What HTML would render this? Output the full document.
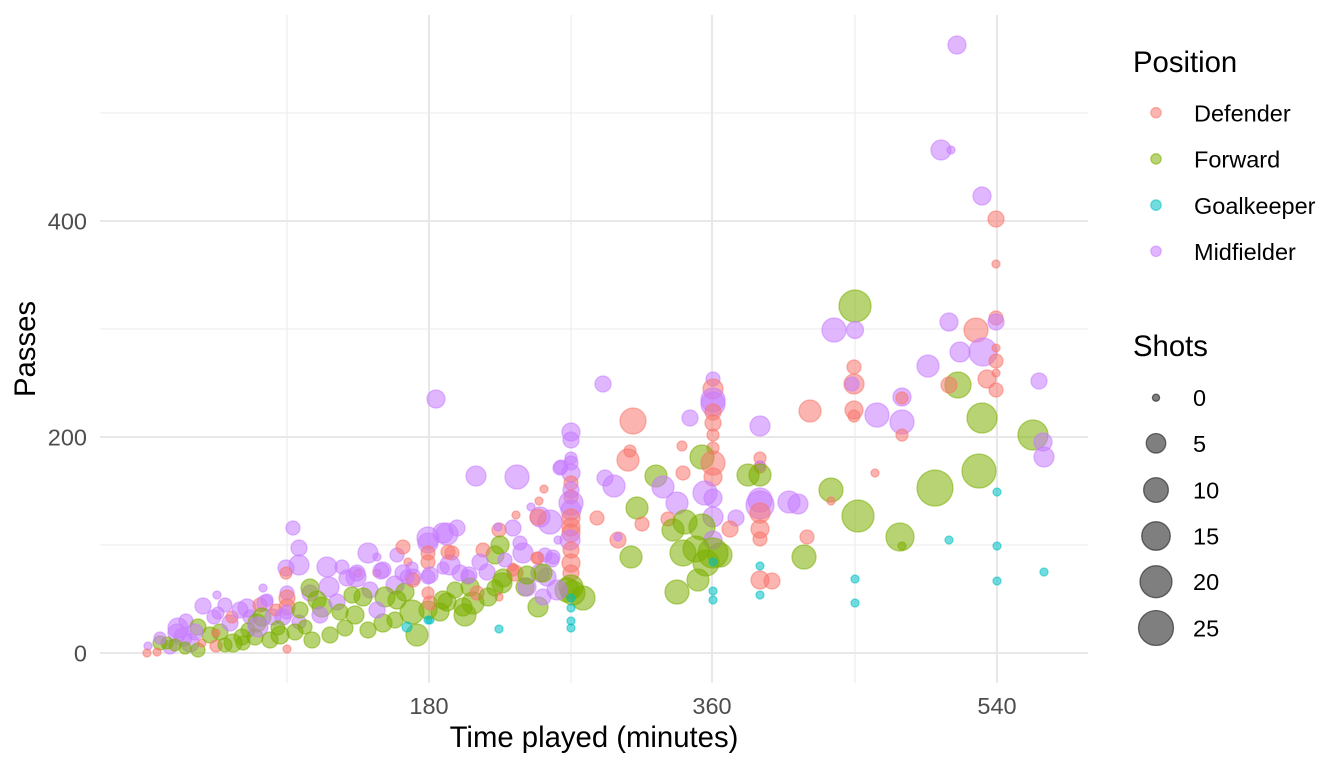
<!DOCTYPE html>
<html>
<head>
<meta charset="utf-8">
<style>
  html, body { margin:0; padding:0; background:#fff; }
  svg { display:block; }
  .D { fill:#F8766D; stroke:#F8766D; }
  .F { fill:#7CAE00; stroke:#7CAE00; }
  .G { fill:#00BFC4; stroke:#00BFC4; }
  .M { fill:#C77CFF; stroke:#C77CFF; }
  .pts circle { fill-opacity:0.55; stroke-opacity:0.55; stroke-width:1.3; }
  text { font-family:"Liberation Sans", Arial, sans-serif; }
  .tick { font-size:23.5px; fill:#4D4D4D; }
  .title { font-size:29.3px; fill:#000; }
  .leg { font-size:23.5px; fill:#000; }
</style>
</head>
<body>
<svg width="1344" height="768" viewBox="0 0 1344 768" xmlns="http://www.w3.org/2000/svg">
  <rect width="1344" height="768" fill="#fff"/>
  <!-- minor grid -->
  <g stroke="#EBEBEB" stroke-width="1.05">
    <line x1="100" x2="1088" y1="545" y2="545"/>
    <line x1="100" x2="1088" y1="329" y2="329"/>
    <line x1="100" x2="1088" y1="113" y2="113"/>
    <line x1="287" x2="287" y1="15" y2="683"/>
    <line x1="571" x2="571" y1="15" y2="683"/>
    <line x1="855" x2="855" y1="15" y2="683"/>
  </g>
  <!-- major grid -->
  <g stroke="#E8E8E8" stroke-width="2.1">
    <line x1="100" x2="1088" y1="653" y2="653"/>
    <line x1="100" x2="1088" y1="437" y2="437"/>
    <line x1="100" x2="1088" y1="221" y2="221"/>
    <line x1="429" x2="429" y1="15" y2="683"/>
    <line x1="712" x2="712" y1="15" y2="683"/>
    <line x1="997" x2="997" y1="15" y2="683"/>
  </g>

  <g class="pts">
    <!-- upper right -->
    <circle class="M" cx="957" cy="45" r="9"/>
    <circle class="M" cx="941" cy="150" r="10"/>
    <circle class="M" cx="951" cy="150" r="4"/>
    <circle class="M" cx="982" cy="196" r="9"/>
    <circle class="D" cx="996" cy="219" r="8"/>
    <circle class="D" cx="996" cy="264" r="4"/>
    <circle class="F" cx="855" cy="306" r="16"/>
    <circle class="M" cx="834" cy="330" r="12"/>
    <circle class="M" cx="855" cy="330" r="8.5"/>
    <circle class="M" cx="949" cy="322" r="9"/>
    <circle class="D" cx="976" cy="330" r="12"/>
    <circle class="D" cx="996" cy="318" r="7"/>
    <circle class="M" cx="996" cy="322" r="8"/>
    <circle class="M" cx="960" cy="352" r="10"/>
    <circle class="M" cx="983" cy="352" r="14"/>
    <circle class="D" cx="996" cy="348" r="4"/>
    <circle class="D" cx="996" cy="361" r="7"/>
    <circle class="D" cx="996" cy="373" r="4"/>
    <circle class="D" cx="987" cy="379" r="9"/>
    <circle class="D" cx="996" cy="390" r="7"/>
    <circle class="M" cx="928" cy="366" r="11"/>
    <circle class="F" cx="958" cy="385" r="13"/>
    <circle class="D" cx="949" cy="385" r="8"/>
    <circle class="M" cx="1039" cy="381" r="8"/>
    <circle class="D" cx="854" cy="367" r="7"/>
    <circle class="D" cx="854" cy="384" r="10"/>
    <circle class="M" cx="852" cy="384" r="7"/>
    <circle class="M" cx="902" cy="397" r="9"/>
    <circle class="D" cx="902" cy="398" r="6"/>
    <circle class="M" cx="877" cy="415" r="12"/>
    <circle class="M" cx="902" cy="422" r="12"/>
    <circle class="D" cx="902" cy="435" r="6"/>
    <circle class="D" cx="854" cy="410" r="9"/>
    <circle class="D" cx="854" cy="416" r="6"/>
    <circle class="D" cx="810" cy="411" r="11"/>
    <circle class="M" cx="760" cy="426" r="10"/>
    <circle class="F" cx="982" cy="418" r="15"/>
    <circle class="F" cx="1033" cy="435" r="15"/>
    <circle class="M" cx="1043" cy="442" r="9"/>
    <circle class="M" cx="1044" cy="457" r="10"/>
    <!-- right lower -->
    <circle class="D" cx="760" cy="458" r="6"/>
    <circle class="D" cx="760" cy="467" r="6"/>
    <circle class="M" cx="760" cy="466" r="5"/>
    <circle class="F" cx="748" cy="475" r="11"/>
    <circle class="F" cx="760" cy="475" r="11"/>
    <circle class="F" cx="831" cy="490" r="12"/>
    <circle class="D" cx="831" cy="501" r="4"/>
    <circle class="D" cx="875" cy="473" r="4"/>
    <circle class="F" cx="935" cy="488" r="18"/>
    <circle class="F" cx="979" cy="471" r="17"/>
    <circle class="G" cx="997" cy="492" r="4"/>
    <circle class="M" cx="760" cy="500" r="12"/>
    <circle class="M" cx="760" cy="505" r="14"/>
    <circle class="D" cx="760" cy="513" r="10"/>
    <circle class="M" cx="789" cy="502" r="11"/>
    <circle class="M" cx="798" cy="504" r="10"/>
    <circle class="F" cx="858" cy="516" r="16"/>
    <circle class="M" cx="736" cy="518" r="8"/>
    <circle class="D" cx="730" cy="529" r="8"/>
    <circle class="D" cx="760" cy="529" r="9"/>
    <circle class="D" cx="760" cy="539" r="7"/>
    <circle class="D" cx="807" cy="537" r="7"/>
    <circle class="F" cx="900" cy="537" r="14"/>
    <circle class="F" cx="902" cy="546" r="4"/>
    <circle class="G" cx="949" cy="540" r="4"/>
    <circle class="G" cx="997" cy="546" r="4"/>
    <circle class="F" cx="804" cy="557" r="12"/>
    <circle class="F" cx="720" cy="555" r="12"/>
    <circle class="G" cx="760" cy="566" r="4"/>
    <circle class="D" cx="760" cy="580" r="9"/>
    <circle class="D" cx="772" cy="581" r="8"/>
    <circle class="G" cx="855" cy="579" r="4"/>
    <circle class="G" cx="997" cy="581" r="4"/>
    <circle class="G" cx="1044" cy="572" r="4"/>
    <circle class="G" cx="760" cy="595" r="4"/>
    <circle class="G" cx="855" cy="603" r="4"/>
    <!-- mid column 360 -->
    <circle class="M" cx="603" cy="384" r="8"/>
    <circle class="D" cx="633" cy="421" r="13"/>
    <circle class="M" cx="690" cy="418" r="8"/>
    <circle class="M" cx="713" cy="379" r="7"/>
    <circle class="D" cx="713" cy="389" r="10"/>
    <circle class="M" cx="713" cy="400" r="12"/>
    <circle class="M" cx="713" cy="404" r="12"/>
    <circle class="D" cx="713" cy="412" r="8"/>
    <circle class="D" cx="713" cy="423" r="8"/>
    <circle class="D" cx="713" cy="435" r="6"/>
    <circle class="D" cx="713" cy="448" r="6"/>
    <circle class="M" cx="571" cy="432" r="9"/>
    <circle class="M" cx="571" cy="440" r="8"/>
    <circle class="D" cx="630" cy="451" r="6"/>
    <circle class="D" cx="628" cy="460" r="11"/>
    <circle class="F" cx="702" cy="457" r="12"/>
    <circle class="D" cx="682" cy="446" r="5"/>
    <circle class="D" cx="713" cy="463" r="12"/>
    <circle class="F" cx="656" cy="476" r="11"/>
    <circle class="D" cx="683" cy="473" r="7"/>
    <circle class="D" cx="713" cy="477" r="9"/>
    <circle class="M" cx="663" cy="487" r="11"/>
    <circle class="M" cx="705" cy="493" r="12"/>
    <circle class="M" cx="713" cy="498" r="9"/>
    <circle class="M" cx="677" cy="503" r="11"/>
    <circle class="F" cx="637" cy="508" r="11"/>
    <circle class="M" cx="713" cy="517" r="10"/>
    <circle class="D" cx="668" cy="519" r="7"/>
    <circle class="D" cx="642" cy="524" r="7"/>
    <circle class="F" cx="673" cy="530" r="11"/>
    <circle class="F" cx="685" cy="522" r="12"/>
    <circle class="F" cx="702" cy="527" r="13"/>
    <circle class="M" cx="713" cy="540" r="9"/>
    <circle class="D" cx="618" cy="540" r="8"/>
    <circle class="M" cx="618" cy="537" r="4"/>
    <circle class="F" cx="683" cy="553" r="13"/>
    <circle class="F" cx="696" cy="549" r="13"/>
    <circle class="F" cx="713" cy="553" r="15"/>
    <circle class="F" cx="706" cy="563" r="13"/>
    <circle class="G" cx="713" cy="562" r="4"/>
    <circle class="F" cx="631" cy="557" r="11"/>
    <circle class="F" cx="698" cy="580" r="11"/>
    <circle class="F" cx="677" cy="592" r="12"/>
    <circle class="G" cx="713" cy="591" r="4"/>
    <circle class="G" cx="713" cy="600" r="4"/>
    <!-- column 270 -->
    <circle class="M" cx="571" cy="458" r="6"/>
    <circle class="M" cx="571" cy="463" r="7"/>
    <circle class="M" cx="561" cy="467" r="7"/>
    <circle class="M" cx="571" cy="473" r="9"/>
    <circle class="D" cx="571" cy="483" r="7"/>
    <circle class="M" cx="571" cy="490" r="8"/>
    <circle class="D" cx="571" cy="497" r="7"/>
    <circle class="M" cx="571" cy="503" r="12"/>
    <circle class="M" cx="571" cy="510" r="10"/>
    <circle class="D" cx="571" cy="518" r="9"/>
    <circle class="D" cx="571" cy="527" r="9"/>
    <circle class="D" cx="571" cy="533" r="9"/>
    <circle class="M" cx="570" cy="540" r="10"/>
    <circle class="D" cx="571" cy="550" r="8"/>
    <circle class="D" cx="571" cy="563" r="9"/>
    <circle class="D" cx="571" cy="573" r="8"/>
    <circle class="F" cx="571" cy="587" r="12"/>
    <circle class="F" cx="567" cy="590" r="12"/>
    <circle class="F" cx="583" cy="598" r="12"/>
    <circle class="F" cx="573" cy="593" r="12"/>
    <circle class="G" cx="571" cy="598" r="4"/>
    <circle class="G" cx="571" cy="608" r="4"/>
    <circle class="G" cx="571" cy="621" r="4"/>
    <circle class="G" cx="571" cy="628" r="4"/>
    <!-- 180-270 region -->
    <circle class="M" cx="605" cy="478" r="8"/>
    <circle class="M" cx="614" cy="486" r="11"/>
    <circle class="D" cx="597" cy="518" r="7"/>
    <circle class="M" cx="476" cy="476" r="10"/>
    <circle class="M" cx="517" cy="477" r="12"/>
    <circle class="D" cx="544" cy="489" r="4"/>
    <circle class="D" cx="539" cy="501" r="4"/>
    <circle class="M" cx="531" cy="507" r="4"/>
    <circle class="D" cx="516" cy="515" r="4"/>
    <circle class="M" cx="540" cy="517" r="10"/>
    <circle class="M" cx="550" cy="522" r="12"/>
    <circle class="D" cx="538" cy="517" r="8"/>
    <circle class="M" cx="513" cy="528" r="8"/>
    <circle class="D" cx="499" cy="530" r="7"/>
    <circle class="M" cx="498" cy="527" r="4"/>
    <circle class="M" cx="447" cy="534" r="11"/>
    <circle class="M" cx="457" cy="528" r="8"/>
    <circle class="M" cx="558" cy="540" r="4"/>
    <circle class="F" cx="500" cy="545" r="9"/>
    <circle class="F" cx="495" cy="555" r="9"/>
    <circle class="M" cx="520" cy="543" r="7"/>
    <circle class="M" cx="523" cy="553" r="10"/>
    <circle class="D" cx="483" cy="550" r="7"/>
    <circle class="D" cx="452" cy="553" r="7"/>
    <circle class="D" cx="538" cy="558" r="6"/>
    <circle class="M" cx="545" cy="555" r="7"/>
    <circle class="M" cx="552" cy="560" r="7"/>
    <circle class="M" cx="450" cy="565" r="10"/>
    <circle class="M" cx="487" cy="572" r="8"/>
    <circle class="M" cx="468" cy="577" r="7"/>
    <circle class="M" cx="460" cy="573" r="8"/>
    <circle class="D" cx="515" cy="573" r="8"/>
    <circle class="D" cx="513" cy="567" r="4"/>
    <circle class="M" cx="540" cy="573" r="9"/>
    <circle class="M" cx="547" cy="577" r="9"/>
    <circle class="F" cx="525" cy="587" r="9"/>
    <circle class="M" cx="527" cy="587" r="9"/>
    <circle class="F" cx="502" cy="583" r="10"/>
    <circle class="F" cx="495" cy="588" r="8"/>
    <circle class="F" cx="470" cy="587" r="9"/>
    <circle class="M" cx="557" cy="590" r="10"/>
    <circle class="F" cx="473" cy="603" r="11"/>
    <circle class="F" cx="447" cy="602" r="9"/>
    <circle class="F" cx="463" cy="607" r="9"/>
    <circle class="F" cx="538" cy="607" r="10"/>
    <circle class="M" cx="543" cy="597" r="8"/>
    <circle class="F" cx="465" cy="615" r="11"/>
    <circle class="D" cx="477" cy="593" r="7"/>
    <circle class="D" cx="499" cy="597" r="4"/>
    <circle class="G" cx="499" cy="629" r="4"/>
    <circle class="G" cx="430" cy="620" r="4"/>
    <circle class="M" cx="436" cy="399" r="9"/>
    <circle class="M" cx="560" cy="468" r="7"/>
    <circle class="D" cx="513" cy="570" r="6"/>
    <circle class="M" cx="553" cy="557" r="7"/>
    <circle class="D" cx="537" cy="558" r="6"/>
    <circle class="F" cx="527" cy="575" r="9"/>
    <circle class="F" cx="543" cy="573" r="9"/>
    <circle class="F" cx="503" cy="578" r="9"/>
    <circle class="F" cx="488" cy="597" r="9"/>
    <circle class="F" cx="455" cy="590" r="8"/>
    <circle class="M" cx="480" cy="562" r="8"/>
    <circle class="M" cx="505" cy="560" r="7"/>
    <!-- 90-180 region -->
    <circle class="M" cx="293" cy="528" r="7"/>
    <circle class="M" cx="299" cy="548" r="8"/>
    <circle class="M" cx="299" cy="565" r="10"/>
    <circle class="M" cx="286" cy="568" r="8"/>
    <circle class="D" cx="286" cy="573" r="6"/>
    <circle class="M" cx="327" cy="567" r="10"/>
    <circle class="M" cx="342" cy="567" r="7"/>
    <circle class="M" cx="368" cy="553" r="10"/>
    <circle class="M" cx="377" cy="557" r="4"/>
    <circle class="M" cx="397" cy="555" r="7"/>
    <circle class="D" cx="403" cy="547" r="7"/>
    <circle class="D" cx="408" cy="562" r="4"/>
    <circle class="M" cx="412" cy="568" r="6"/>
    <circle class="M" cx="428" cy="538" r="11"/>
    <circle class="M" cx="428" cy="543" r="10"/>
    <circle class="D" cx="428" cy="553" r="7"/>
    <circle class="D" cx="428" cy="562" r="7"/>
    <circle class="M" cx="443" cy="533" r="10"/>
    <circle class="D" cx="358" cy="573" r="4"/>
    <circle class="D" cx="377" cy="573" r="4"/>
    <circle class="M" cx="356" cy="577" r="10"/>
    <circle class="M" cx="381" cy="571" r="8"/>
    <circle class="M" cx="403" cy="573" r="8"/>
    <circle class="M" cx="413" cy="577" r="8"/>
    <circle class="M" cx="430" cy="575" r="8"/>
    <circle class="M" cx="443" cy="568" r="6"/>
    <circle class="M" cx="469" cy="575" r="8"/>
    <circle class="D" cx="448" cy="552" r="7"/>
    <circle class="M" cx="428" cy="577" r="7"/>
    <circle class="M" cx="395" cy="585" r="9"/>
    <circle class="M" cx="370" cy="590" r="8"/>
    <circle class="F" cx="405" cy="592" r="9"/>
    <circle class="F" cx="440" cy="612" r="9"/>
    <!-- lower left -->
    <circle class="M" cx="217" cy="595" r="4"/>
    <circle class="M" cx="203" cy="606" r="8"/>
    <circle class="M" cx="263" cy="588" r="4"/>
    <circle class="M" cx="186" cy="621" r="7"/>
    <circle class="M" cx="178" cy="628" r="10"/>
    <circle class="M" cx="177" cy="633" r="9"/>
    <circle class="M" cx="190" cy="643" r="9"/>
    <circle class="M" cx="183" cy="637" r="9"/>
    <circle class="M" cx="170" cy="647" r="7"/>
    <circle class="F" cx="160" cy="643" r="7"/>
    <circle class="F" cx="167" cy="643" r="6"/>
    <circle class="M" cx="148" cy="646" r="4"/>
    <circle class="D" cx="147" cy="653" r="4"/>
    <circle class="D" cx="157" cy="652" r="4"/>
    <circle class="F" cx="198" cy="627" r="8"/>
    <circle class="F" cx="198" cy="650" r="7"/>
    <circle class="D" cx="202" cy="643" r="4"/>
    <circle class="F" cx="210" cy="635" r="8"/>
    <circle class="F" cx="220" cy="632" r="8"/>
    <circle class="M" cx="214" cy="617" r="7"/>
    <circle class="M" cx="218" cy="613" r="6"/>
    <circle class="D" cx="216" cy="646" r="6"/>
    <circle class="D" cx="216" cy="633" r="4"/>
    <circle class="M" cx="230" cy="623" r="8"/>
    <circle class="D" cx="232" cy="617" r="6"/>
    <circle class="F" cx="233" cy="643" r="9"/>
    <circle class="M" cx="240" cy="610" r="8"/>
    <circle class="M" cx="247" cy="608" r="9"/>
    <circle class="F" cx="242" cy="637" r="8"/>
    <circle class="M" cx="250" cy="617" r="7"/>
    <circle class="D" cx="260" cy="605" r="7"/>
    <circle class="M" cx="265" cy="603" r="8"/>
    <circle class="F" cx="248" cy="630" r="7"/>
    <circle class="F" cx="257" cy="623" r="9"/>
    <circle class="F" cx="262" cy="617" r="9"/>
    <circle class="F" cx="255" cy="637" r="8"/>
    <circle class="M" cx="258" cy="627" r="10"/>
    <circle class="F" cx="243" cy="643" r="7"/>
    <circle class="M" cx="267" cy="600" r="6"/>
    <circle class="M" cx="273" cy="617" r="8"/>
    <circle class="D" cx="276" cy="610" r="6"/>
    <circle class="D" cx="287" cy="607" r="8"/>
    <circle class="M" cx="287" cy="593" r="7"/>
    <circle class="D" cx="287" cy="598" r="8"/>
    <circle class="M" cx="283" cy="617" r="8"/>
    <circle class="M" cx="287" cy="612" r="7"/>
    <circle class="M" cx="299" cy="622" r="7"/>
    <circle class="F" cx="280" cy="635" r="9"/>
    <circle class="F" cx="278" cy="628" r="7"/>
    <circle class="D" cx="287" cy="649" r="4"/>
    <circle class="F" cx="295" cy="632" r="8"/>
    <circle class="F" cx="305" cy="627" r="7"/>
    <circle class="M" cx="310" cy="593" r="8"/>
    <circle class="F" cx="310" cy="588" r="9"/>
    <circle class="M" cx="329" cy="587" r="10"/>
    <circle class="M" cx="347" cy="578" r="8"/>
    <circle class="F" cx="317" cy="600" r="9"/>
    <circle class="F" cx="322" cy="607" r="10"/>
    <circle class="M" cx="337" cy="602" r="8"/>
    <circle class="F" cx="352" cy="595" r="8"/>
    <circle class="M" cx="357" cy="573" r="8"/>
    <circle class="M" cx="383" cy="570" r="8"/>
    <circle class="F" cx="363" cy="597" r="9"/>
    <circle class="F" cx="385" cy="597" r="10"/>
    <circle class="F" cx="397" cy="600" r="9"/>
    <circle class="F" cx="383" cy="623" r="9"/>
    <circle class="M" cx="377" cy="610" r="8"/>
    <circle class="D" cx="413" cy="580" r="7"/>
    <circle class="M" cx="407" cy="577" r="7"/>
    <circle class="D" cx="428" cy="593" r="6"/>
    <circle class="F" cx="428" cy="610" r="9"/>
    <circle class="F" cx="412" cy="612" r="12"/>
    <circle class="F" cx="417" cy="635" r="11"/>
    <circle class="G" cx="407" cy="627" r="5"/>
    <circle class="G" cx="428" cy="620" r="4"/>
    <circle class="D" cx="430" cy="603" r="7"/>
    <circle class="F" cx="443" cy="600" r="9"/>
    <circle class="F" cx="345" cy="628" r="8"/>
    <circle class="F" cx="330" cy="635" r="8"/>
    <!-- extra density lower band -->
    <circle class="F" cx="312" cy="640" r="8"/>
    <circle class="F" cx="355" cy="615" r="9"/>
    <circle class="F" cx="368" cy="630" r="8"/>
    <circle class="F" cx="395" cy="620" r="8"/>
    <circle class="F" cx="340" cy="612" r="8"/>
    <circle class="F" cx="300" cy="610" r="8"/>
    <circle class="M" cx="320" cy="615" r="8"/>
    <circle class="F" cx="225" cy="645" r="7"/>
    <circle class="F" cx="185" cy="648" r="6"/>
    <circle class="M" cx="195" cy="632" r="8"/>
    <circle class="M" cx="160" cy="638" r="6"/>
    <circle class="F" cx="270" cy="640" r="8"/>
    <circle class="M" cx="225" cy="605" r="7"/>
    <circle class="F" cx="175" cy="645" r="6"/>
  </g>

  <!-- axis tick labels -->
  <text class="tick" x="87" y="661.5" text-anchor="end">0</text>
  <text class="tick" x="87" y="445.5" text-anchor="end">200</text>
  <text class="tick" x="87" y="229.5" text-anchor="end">400</text>
  <text class="tick" x="429" y="714" text-anchor="middle">180</text>
  <text class="tick" x="712" y="714" text-anchor="middle">360</text>
  <text class="tick" x="997" y="714" text-anchor="middle">540</text>

  <!-- axis titles -->
  <text class="title" x="594" y="747" text-anchor="middle">Time played (minutes)</text>
  <text class="title" transform="translate(35,349) rotate(-90)" text-anchor="middle">Passes</text>

  <!-- legend: Position -->
  <text class="title" x="1133" y="72">Position</text>
  <g class="pts">
    <circle class="D" cx="1156" cy="112.7" r="5.2"/>
    <circle class="F" cx="1156" cy="158.9" r="5.2"/>
    <circle class="G" cx="1156" cy="205.1" r="5.2"/>
    <circle class="M" cx="1156" cy="251.3" r="5.2"/>
  </g>
  <text class="leg" x="1194" y="121.5">Defender</text>
  <text class="leg" x="1194" y="167.7">Forward</text>
  <text class="leg" x="1194" y="213.9">Goalkeeper</text>
  <text class="leg" x="1194" y="260">Midfielder</text>

  <!-- legend: Shots -->
  <text class="title" x="1133" y="356">Shots</text>
  <g fill="#000" fill-opacity="0.5" stroke="#000" stroke-opacity="0.5" stroke-width="1.3">
    <circle cx="1156" cy="397.7" r="3.6"/>
    <circle cx="1156" cy="443.3" r="9.8"/>
    <circle cx="1156" cy="490" r="12.4"/>
    <circle cx="1156" cy="536" r="14.3"/>
    <circle cx="1156" cy="581.7" r="16"/>
    <circle cx="1156" cy="628" r="17.5"/>
  </g>
  <text class="leg" x="1193" y="406">0</text>
  <text class="leg" x="1193" y="451.8">5</text>
  <text class="leg" x="1193" y="498.5">10</text>
  <text class="leg" x="1193" y="544.5">15</text>
  <text class="leg" x="1193" y="590.2">20</text>
  <text class="leg" x="1193" y="636.5">25</text>
</svg>
</body>
</html>
